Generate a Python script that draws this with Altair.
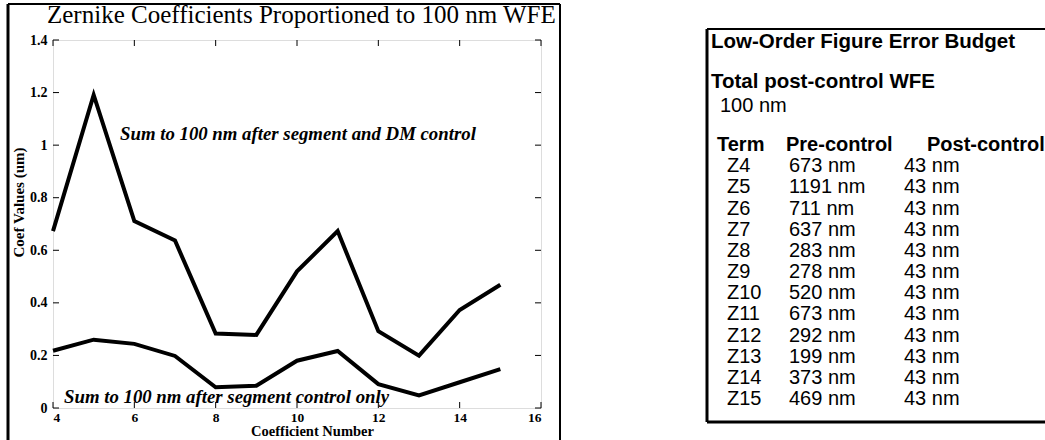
import altair as alt
import pandas as pd

# ---- data ----
coef = [4, 5, 6, 7, 8, 9, 10, 11, 12, 13, 14, 15]
terms = ["Z4", "Z5", "Z6", "Z7", "Z8", "Z9", "Z10", "Z11", "Z12", "Z13", "Z14", "Z15"]
pre_nm = [673, 1191, 711, 637, 283, 278, 520, 673, 292, 199, 373, 469]
post_nm = [43, 43, 43, 43, 43, 43, 43, 43, 43, 43, 43, 43]
lower_um = [0.218, 0.26, 0.244, 0.198, 0.079, 0.085, 0.18, 0.217, 0.091, 0.048, 0.098, 0.148]
x_ticks = [4, 6, 8, 10, 12, 14, 16]
y_ticks = [0, 0.2, 0.4, 0.6, 0.8, 1, 1.2, 1.4]

title_text = "Zernike Coefficients Proportioned to 100 nm WFE"
upper_label = "Sum to 100 nm after segment and DM control"
lower_label = "Sum to 100 nm after segment control only"
table_title = "Low-Order Figure Error Budget"
table_sub = "Total post-control WFE"
table_total = "100 nm"
table_headers = ["Term", "Pre-control", "Post-control"]

W, H = 488, 368
SERIF = "Liberation Serif"
SANS = "Liberation Sans"

upper_um = [v / 1000 for v in pre_nm]
lines_df = pd.DataFrame({
    "coef": coef * 2,
    "value": upper_um + lower_um,
    "series": ["upper"] * len(coef) + ["lower"] * len(coef),
})

xscale = alt.Scale(domain=[4, 16], nice=False, zero=False)
yscale = alt.Scale(domain=[0, 1.4], nice=False, zero=True)

lines = alt.Chart(lines_df).mark_line(color="black", strokeWidth=4).encode(
    x=alt.X("coef:Q", scale=xscale,
            axis=alt.Axis(values=x_ticks, title="Coefficient Number", grid=False,
                          ticks=False, tickSize=0, domain=False, labelPadding=2,
                          labelFont=SERIF, labelFontWeight="bold", labelFontSize=13.5,
                          labelColor="black", titleFont=SERIF, titleFontWeight="bold",
                          titleFontSize=14.5, titleColor="black", titleX=259, titleY=23,
                          titleBaseline="middle", titleAlign="center")),
    y=alt.Y("value:Q", scale=yscale,
            axis=alt.Axis(values=y_ticks, format="~g", title="Coef Values (um)", grid=False,
                          ticks=False, tickSize=0, domain=False, labelPadding=6,
                          labelFont=SERIF, labelFontWeight="bold", labelFontSize=14,
                          labelColor="black", titleFont=SERIF, titleFontWeight="bold",
                          titleFontSize=15, titleColor="black", titleX=-35, titleY=162,
                          titleAngle=-90, titleBaseline="middle", titleAlign="center")),
    detail="series:N",
)

xt = pd.DataFrame({"coef": x_ticks})
yt = pd.DataFrame({"value": y_ticks})
tick_b = alt.Chart(xt).mark_rule(color="black", strokeWidth=1).encode(
    x=alt.X("coef:Q", scale=xscale), y=alt.value(H), y2=alt.value(H - 6))
tick_t = alt.Chart(xt).mark_rule(color="black", strokeWidth=1).encode(
    x=alt.X("coef:Q", scale=xscale), y=alt.value(0), y2=alt.value(6))
tick_l = alt.Chart(yt).mark_rule(color="black", strokeWidth=1).encode(
    y=alt.Y("value:Q", scale=yscale), x=alt.value(0), x2=alt.value(6))
tick_r = alt.Chart(yt).mark_rule(color="black", strokeWidth=1).encode(
    y=alt.Y("value:Q", scale=yscale), x=alt.value(W), x2=alt.value(W - 6))

one = alt.Data(values=[{}])


def label(text, x, y, font, size, weight="normal", style="normal", baseline="middle", align="left"):
    return alt.Chart(one).mark_text(
        text=text, font=font, fontSize=size, fontWeight=weight, fontStyle=style,
        baseline=baseline, align=align, color="black"
    ).encode(x=alt.value(x), y=alt.value(y))


def rule(x, y, x2=None, y2=None, w=2.5):
    enc = {"x": alt.value(x), "y": alt.value(y)}
    if x2 is not None:
        enc["x2"] = alt.value(x2)
    if y2 is not None:
        enc["y2"] = alt.value(y2)
    return alt.Chart(one).mark_rule(color="black", strokeWidth=w).encode(**enc)


title = label(title_text, -6, -17, SERIF, 25, baseline="alphabetic")
ann_up = label(upper_label, 67, 100, SERIF, 18.8, weight="bold", style="italic", baseline="alphabetic")
ann_lo = label(lower_label, 11, 363, SERIF, 18.8, weight="bold", style="italic", baseline="alphabetic")

# left panel frame
frame_l = alt.layer(
    rule(-45, -36, y2=410, w=3),
    rule(-45, -36, x2=507, w=2),
    rule(507, -36, y2=410, w=2),
)

plot = alt.layer(lines, tick_b, tick_t, tick_l, tick_r, title, ann_up, ann_lo, frame_l)

# ---- table ----
rows_df = pd.DataFrame({
    "row": list(range(1, len(terms) + 1)),
    "term": terms,
    "pre": [f"{v} nm" for v in pre_nm],
    "post": [f"{v} nm" for v in post_nm],
})
hdr_df = pd.DataFrame({"row": [0, 0, 0], "h": table_headers, "col": [0, 1, 2]})
rscale = alt.Scale(domain=[0, 12], range=[105, 359])
TS = 20


def col_text(df, field, x, weight="normal"):
    return alt.Chart(df).mark_text(font=SANS, fontSize=TS, fontWeight=weight, align="left",
                                   baseline="middle", color="black").encode(
        x=alt.value(x), y=alt.Y("row:Q", scale=rscale, axis=None), text=f"{field}:N")


hdr_x = [664, 733, 874]
hdrs = [alt.Chart(hdr_df).transform_filter(alt.datum.col == i).mark_text(
    font=SANS, fontSize=TS, fontWeight="bold", align="left", baseline="middle", color="black"
).encode(x=alt.value(hdr_x[i]), y=alt.Y("row:Q", scale=rscale, axis=None), text="h:N")
    for i in range(3)]

table = alt.layer(
    label(table_title, 658, 2, SANS, 20.5, weight="bold"),
    label(table_sub, 658, 42, SANS, 20.5, weight="bold"),
    label(table_total, 667, 66, SANS, TS),
    *hdrs,
    col_text(rows_df, "term", 674),
    col_text(rows_df, "pre", 736),
    col_text(rows_df, "post", 851),
    rule(654, -11, y2=382, w=3),
    rule(654, -11, x2=1000, w=2),
    rule(654, 382, x2=1000, w=3),
)

chart = alt.layer(plot, table).resolve_scale(y="independent").properties(
    width=W, height=H,
    autosize=alt.AutoSizeParams(type="none"),
    padding={"left": 53, "top": 40, "right": 1045 - 53 - W, "bottom": 440 - 40 - H},
).configure_view(stroke="black", strokeWidth=1.5).configure(background="white")

chart.save("out.html", embed_options={"renderer": "svg", "actions": False})
